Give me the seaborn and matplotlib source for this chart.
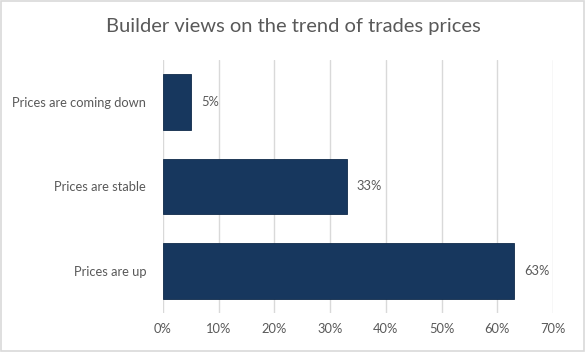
import matplotlib
matplotlib.use("Agg")
import matplotlib.pyplot as plt
import seaborn as sns
import pandas as pd
from matplotlib.patches import Rectangle

# data
categories = ["Prices are coming down", "Prices are stable", "Prices are up"]
shares = [5, 33, 63]
xticks = [0, 10, 20, 30, 40, 50, 60, 70]

df = pd.DataFrame({"view": categories, "share": shares})

sns.set_theme(style="white")
plt.rcParams["font.family"] = ["Lato", "DejaVu Sans"]

bar_color = "#17375E"
text_color = "#595959"
grid_color = "#D9D9D9"

fig = plt.figure(figsize=(5.86, 3.52), dpi=100)
ax = fig.add_axes([0.278, 0.111, 0.666, 0.719])

sns.barplot(data=df, x="share", y="view", orient="h", color=bar_color,
            width=0.66, saturation=1, edgecolor="#0F2A4A", linewidth=0.6, ax=ax)

ax.set_xlim(0, 70)
ax.set_ylim(2.5, -0.5)
ax.set_xticks(xticks)
ax.set_xticklabels([f"{t}%" for t in xticks])
ax.set_xlabel("")
ax.set_ylabel("")
ax.grid(axis="x", color=grid_color, linewidth=1)
ax.set_axisbelow(True)
for s in ax.spines.values():
    s.set_visible(False)

ax.tick_params(axis="x", length=0, pad=7, labelsize=9.3, labelcolor=text_color)
ax.tick_params(axis="y", length=0, pad=12, labelsize=9.3, labelcolor=text_color)

for i, v in enumerate(shares):
    ax.text(v + 1.8, i, f"{v}%", va="center", ha="left", fontsize=9.3, color=text_color)

fig.suptitle("Builder views on the trend of trades prices", y=0.95,
             fontsize=14.5, color=text_color)

fig.patches.append(Rectangle((0.002, 0.003), 0.995, 0.994, transform=fig.transFigure,
                             fill=False, edgecolor="#D9D9D9", linewidth=1.2))

fig.savefig("out.png", dpi=100)
